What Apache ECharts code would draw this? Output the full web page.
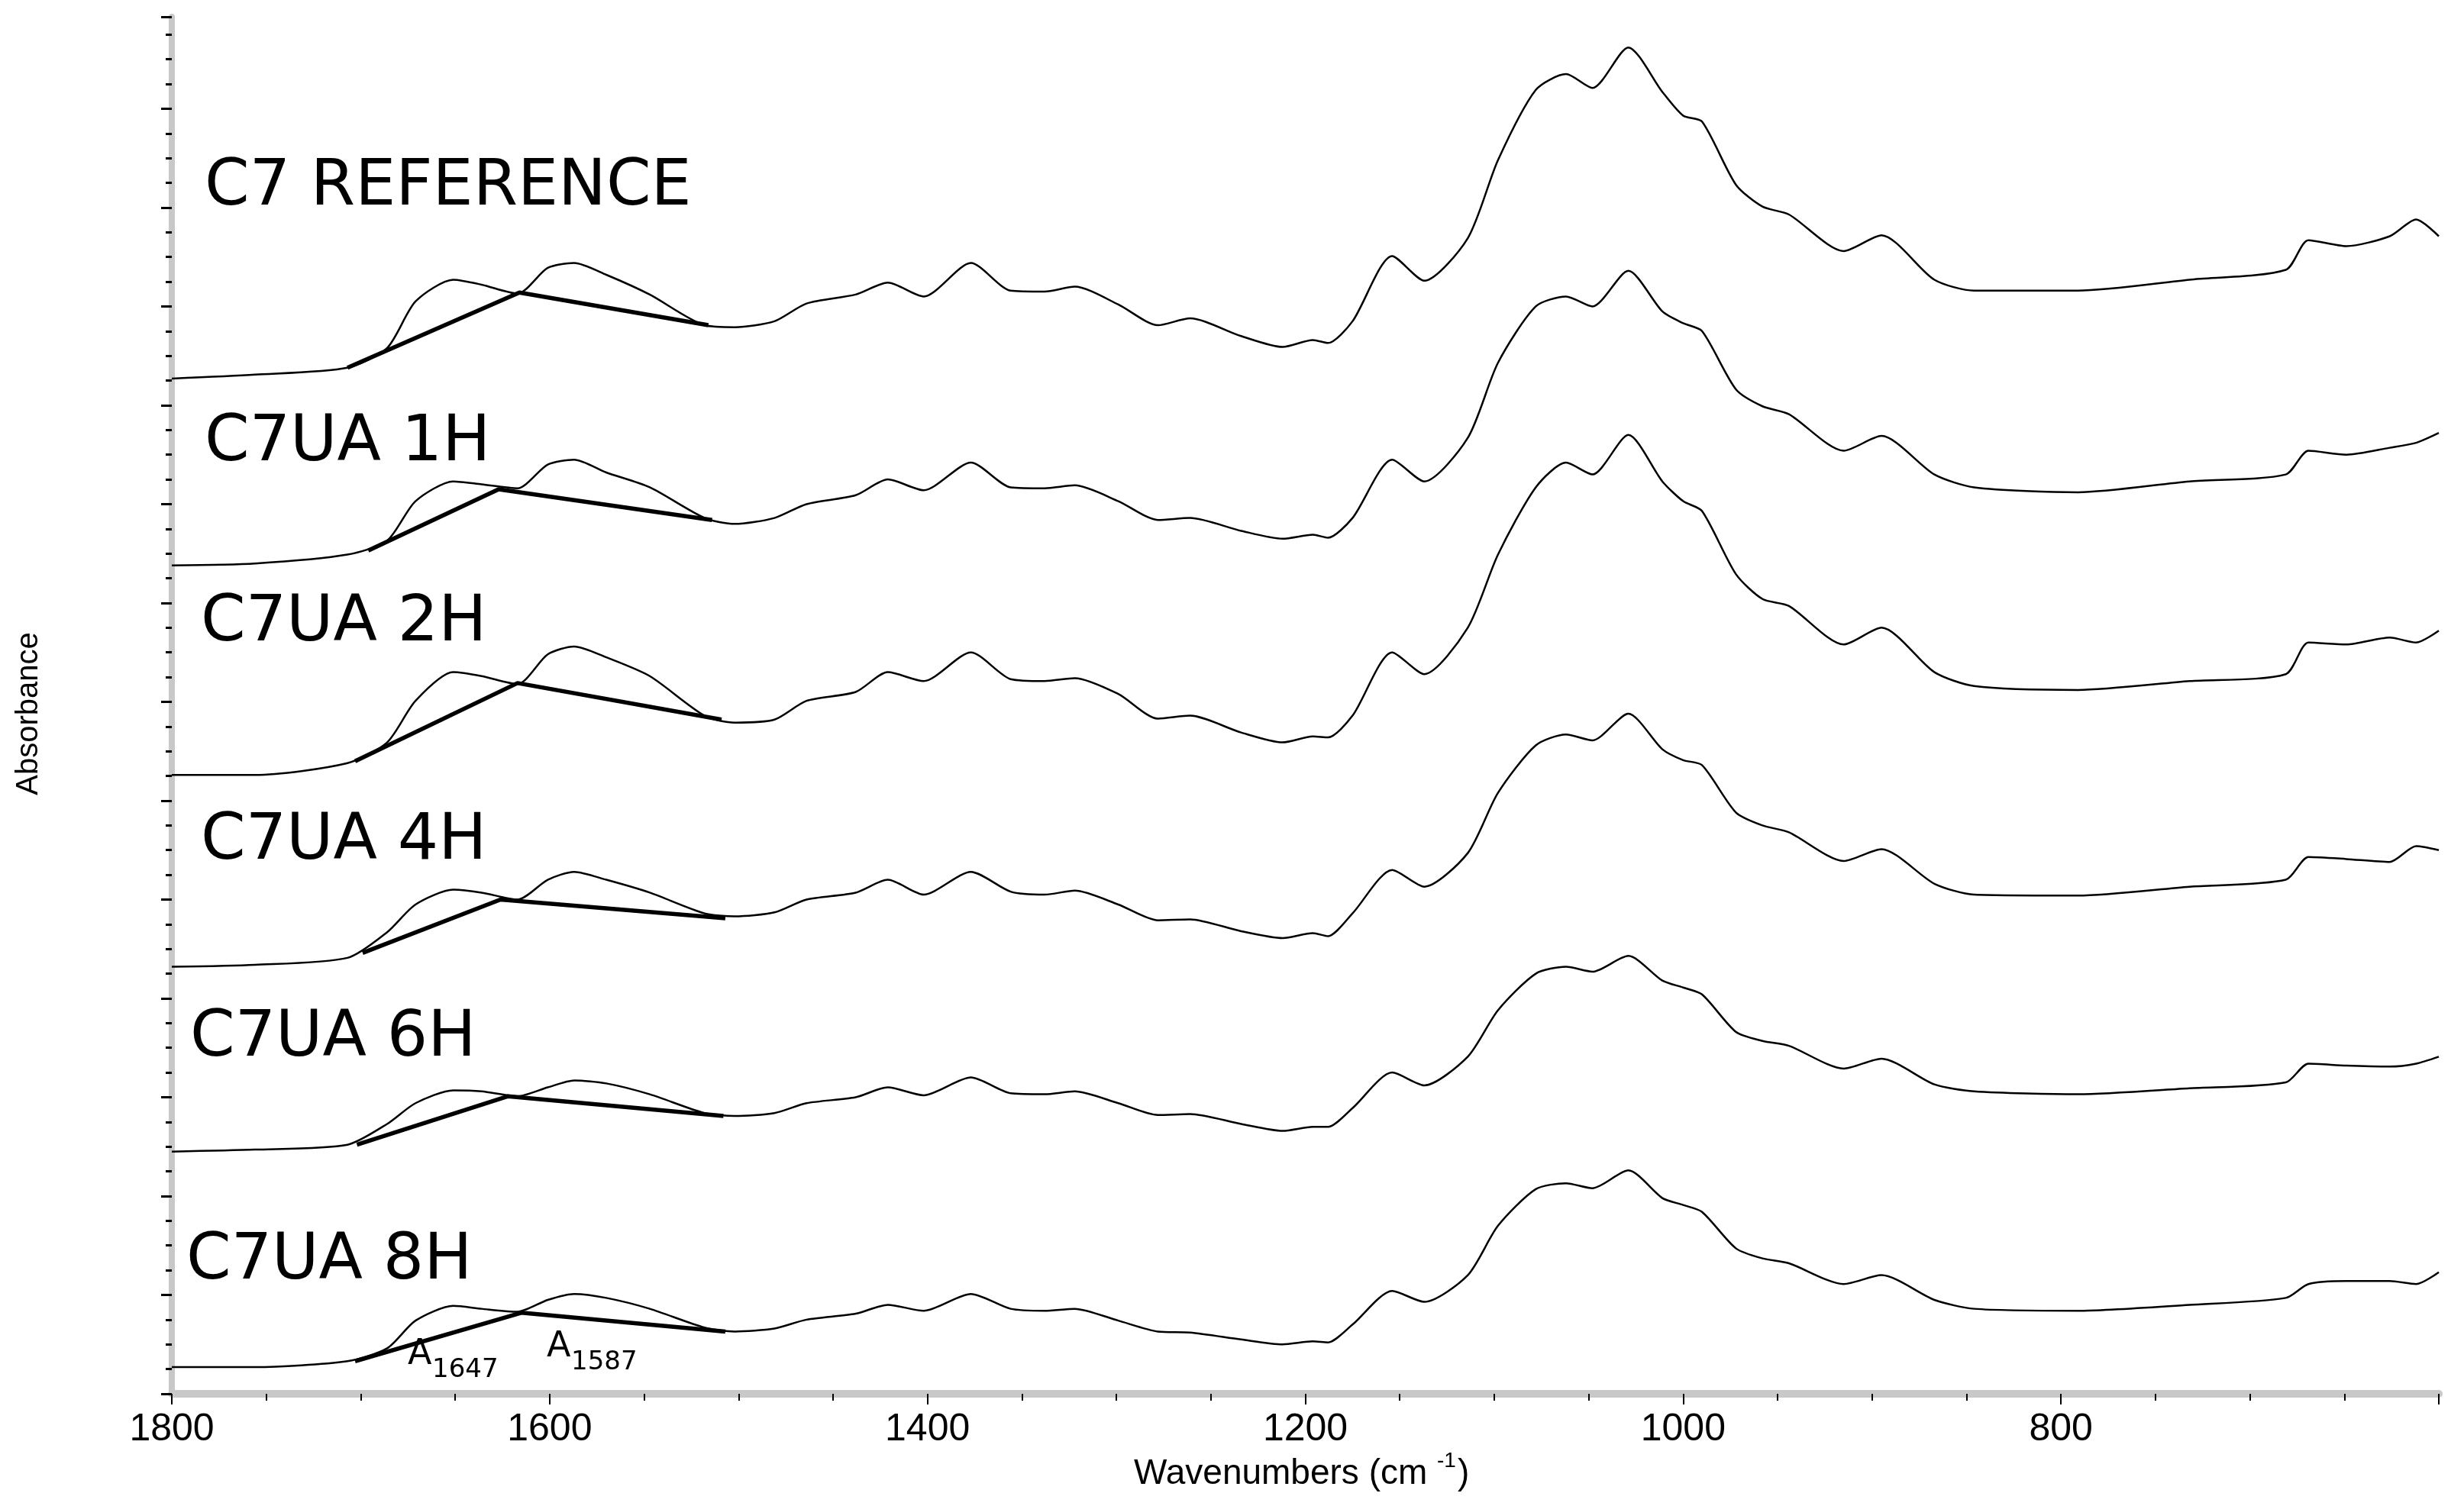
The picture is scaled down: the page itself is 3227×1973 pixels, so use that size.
<!DOCTYPE html>
<html><head><meta charset="utf-8">
<script src="https://cdn.jsdelivr.net/npm/echarts@6/dist/echarts.min.js"></script>
<style>html,body{margin:0;padding:0;background:#fff}#c{width:3227px;height:1973px}</style>
</head><body><div id="c"></div>
<script>
const wavenumbers = [1800,1756,1707,1686,1671,1651,1636,1617,1601,1587,1570,1547,1518,1502,1481,1464,1438,1421,1402,1377,1356,1338,1322,1299,1278,1261,1234,1212,1196,1188,1175,1154,1137,1114,1098,1078,1062,1048,1029,1011,1000,990,972,958,944,915,895,867,846,791,732,681,669,649,626,612,600];
const seriesNames = ['C7 REFERENCE','C7UA 1H','C7UA 2H','C7UA 4H','C7UA 6H','C7UA 8H'];
const refValues = [10.27,10.31,10.38,10.58,11.05,11.27,11.22,11.13,11.39,11.44,11.32,11.12,10.81,10.79,10.85,11.03,11.12,11.24,11.10,11.44,11.16,11.15,11.20,11.02,10.81,10.88,10.70,10.59,10.66,10.63,10.85,11.51,11.26,11.69,12.48,13.19,13.35,13.21,13.62,13.17,12.93,12.87,12.23,12.01,11.93,11.56,11.72,11.27,11.16,11.16,11.27,11.37,11.67,11.61,11.71,11.88,11.71];
const h1Values = [8.38,8.40,8.49,8.63,9.03,9.23,9.20,9.16,9.40,9.45,9.32,9.17,8.86,8.80,8.86,9.00,9.09,9.25,9.14,9.42,9.17,9.16,9.19,9.03,8.84,8.86,8.73,8.65,8.69,8.66,8.86,9.45,9.23,9.67,10.43,11.00,11.10,11.00,11.36,10.95,10.83,10.75,10.16,9.99,9.91,9.54,9.69,9.30,9.17,9.12,9.23,9.30,9.54,9.50,9.57,9.62,9.72];
const h2Values = [6.26,6.26,6.38,6.59,7.01,7.30,7.26,7.18,7.48,7.56,7.45,7.26,6.86,6.79,6.82,7.01,7.10,7.30,7.21,7.50,7.23,7.21,7.24,7.08,6.83,6.86,6.69,6.59,6.65,6.64,6.86,7.50,7.28,7.75,8.49,9.17,9.42,9.30,9.70,9.23,9.03,8.93,8.29,8.04,7.97,7.58,7.75,7.30,7.16,7.12,7.21,7.28,7.60,7.58,7.65,7.60,7.72];
const h4Values = [4.32,4.34,4.41,4.67,4.95,5.10,5.07,5.00,5.20,5.28,5.20,5.07,4.86,4.83,4.87,5.00,5.07,5.20,5.05,5.28,5.08,5.05,5.09,4.95,4.79,4.80,4.68,4.61,4.66,4.63,4.86,5.30,5.13,5.47,6.08,6.56,6.67,6.61,6.88,6.52,6.41,6.36,5.88,5.75,5.68,5.39,5.51,5.16,5.05,5.04,5.13,5.20,5.43,5.41,5.38,5.54,5.50];
const h6Values = [2.45,2.47,2.52,2.73,2.94,3.07,3.06,3.01,3.10,3.17,3.14,3.03,2.84,2.81,2.84,2.94,3.00,3.10,3.02,3.20,3.04,3.03,3.06,2.94,2.82,2.83,2.73,2.66,2.70,2.70,2.89,3.25,3.12,3.41,3.88,4.25,4.32,4.27,4.43,4.18,4.11,4.04,3.66,3.57,3.52,3.29,3.39,3.13,3.06,3.03,3.09,3.15,3.34,3.32,3.31,3.34,3.41];
const h8Values = [0.27,0.27,0.33,0.46,0.74,0.89,0.86,0.83,0.95,1.01,0.97,0.86,0.67,0.63,0.66,0.75,0.81,0.90,0.84,1.01,0.86,0.84,0.86,0.74,0.63,0.62,0.55,0.50,0.53,0.52,0.70,1.04,0.93,1.20,1.70,2.07,2.13,2.08,2.26,1.98,1.91,1.84,1.47,1.37,1.32,1.11,1.20,0.95,0.86,0.84,0.90,0.97,1.11,1.14,1.14,1.11,1.23];
// integration baselines: [wavenumber, value] start / split / end
const baselineRef = [[1707,10.38],[1616,11.14],[1516,10.81]];
const baseline1H = [[1696,8.53],[1627,9.15],[1514,8.84]];
const baseline2H = [[1703,6.40],[1617,7.19],[1509,6.82]];
const baseline4H = [[1699,4.46],[1626,5.00],[1507,4.81]];
const baseline6H = [[1702,2.52],[1622,3.01],[1508,2.81]];
const baseline8H = [[1703,0.33],[1615,0.82],[1507,0.63]];
const xTicks = [1800,1600,1400,1200,1000,800];

const specs = [refValues,h1Values,h2Values,h4Values,h6Values,h8Values];
const bases = [baselineRef,baseline1H,baseline2H,baseline4H,baseline6H,baseline8H];
const series = [];
specs.forEach((v,i)=>{
  series.push({name:seriesNames[i],type:'line',showSymbol:false,silent:true,smooth:0.25,
    data:wavenumbers.map((w,j)=>[w,v[j]]),lineStyle:{color:'#000',width:2.5},z:2});
  series.push({name:seriesNames[i]+' baseline',type:'line',showSymbol:false,silent:true,
    data:bases[i],lineStyle:{color:'#000',width:5.5},z:3});
});
const ctx = document.createElement('canvas').getContext('2d');
const measure = (t,font)=>{ctx.font=font;return ctx.measureText(t).width;};
const labelPos = [[268,250],[268,585],[263,821],[263,1107],[249,1365],[244,1657]];
const txt = (t,x,y,font)=>({type:'text',left:x,top:y,style:{text:t,font:font,fill:'#000'}});
const graphics = seriesNames.map((n,i)=>txt(n,labelPos[i][0],labelPos[i][1]-46,'84px "DejaVu Sans"'));
graphics.push(txt('A',534,1752,'46px "DejaVu Sans"'));
graphics.push(txt('1647',566,1778,'34px "DejaVu Sans"'));
graphics.push(txt('A',716,1742,'46px "DejaVu Sans"'));
graphics.push(txt('1587',748,1768,'34px "DejaVu Sans"'));
const tf = '46px "Liberation Sans"', sf = '28px "Liberation Sans"';
const t1 = 'Wavenumbers (cm ';
const w1 = measure(t1,tf), w2 = measure('-1',sf);
const tx = 1485;
graphics.push(txt(t1,tx,1908,tf));
graphics.push(txt('-1',tx+w1,1900,sf));
graphics.push(txt(')',tx+w1+w2+2,1908,tf));
graphics.push({type:'text',x:38,y:935,rotation:Math.PI/2,style:{text:'Absorbance',font:'40px "Liberation Sans"',fill:'#000',align:'center',verticalAlign:'middle'}});

const chart = echarts.init(document.getElementById('c'));
chart.setOption({
  animation:false,
  grid:{left:225,right:33,top:22,bottom:147},
  xAxis:{type:'value',inverse:true,min:600,max:1800,interval:200,
    axisLine:{lineStyle:{color:'#c8c8c8',width:10}},
    axisTick:{length:14,lineStyle:{color:'#000',width:2}},
    minorTick:{show:true,splitNumber:4,length:9,lineStyle:{color:'#000',width:2}},
    splitLine:{show:false},
    axisLabel:{fontSize:50,fontFamily:'Liberation Sans',color:'#000',margin:22,
      formatter:v=>xTicks.includes(v)?String(v):''}},
  yAxis:{type:'value',min:0,max:13.93,interval:1,
    axisLine:{show:true,lineStyle:{color:'#c8c8c8',width:8}},
    axisTick:{show:true,length:14,lineStyle:{color:'#000',width:3}},
    minorTick:{show:true,splitNumber:4,length:8,lineStyle:{color:'#000',width:3}},
    splitLine:{show:false},axisLabel:{show:false}},
  series:series,
  graphic:graphics
});
</script></body></html>
